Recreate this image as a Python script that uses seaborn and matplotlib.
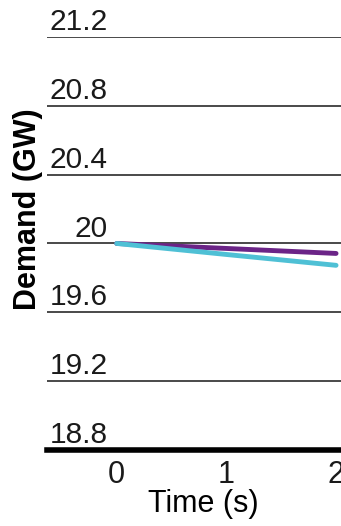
import matplotlib.pyplot as plt
import pandas as pd
import seaborn as sns

# values
time_s = [0, 1, 2]
demand_purple = [20.0, 19.971, 19.942]
demand_cyan = [20.0, 19.936, 19.873]
y_ticks = [18.8, 19.2, 19.6, 20.0, 20.4, 20.8, 21.2]
y_tick_labels = ["18.8", "19.2", "19.6", "20", "20.4", "20.8", "21.2"]
x_ticks = [0, 1, 2]

df = pd.DataFrame(
    {
        "time": time_s * 2,
        "demand": demand_purple + demand_cyan,
        "series": ["purple"] * len(time_s) + ["cyan"] * len(time_s),
    }
)

sns.set_style("white")
plt.rcParams["font.family"] = ["Liberation Sans", "DejaVu Sans"]

fig = plt.figure(figsize=(3.41, 5.26), dpi=100)
ax = fig.add_axes([0.138, 0.1445, 0.87, 0.7853])

for t in y_ticks:
    ax.axhline(t, color="#3a3a3a", lw=1.3, zorder=1)

sns.lineplot(
    data=df, x="time", y="demand", hue="series",
    palette={"purple": "#6b2487", "cyan": "#4fc0d5"},
    hue_order=["purple", "cyan"],
    lw=3.5, legend=False, ax=ax, zorder=3,
    solid_capstyle="round",
)

ax.set_xlim(-0.635, 2.07)
ax.set_ylim(18.8, 21.2)

# y tick labels sit just above their gridlines, inside the axes
ax.set_yticks([])
for t, lab in zip(y_ticks, y_tick_labels):
    ax.annotate(lab, xy=(0.205, t), xycoords=("axes fraction", "data"),
                xytext=(0, 5), textcoords="offset points",
                ha="right", va="baseline", fontsize=21.5, color="#1a1a1a")

ax.set_xticks(x_ticks)
ax.set_xticklabels([str(x) for x in x_ticks], fontsize=22, color="#1a1a1a")
ax.tick_params(axis="x", direction="out", length=6, width=3, color="black", pad=1)

for side in ["top", "right", "left"]:
    ax.spines[side].set_visible(False)
ax.spines["bottom"].set_linewidth(4)
ax.spines["bottom"].set_color("black")

ax.set_xlabel("Time (s)", fontsize=22, color="black")
ax.xaxis.set_label_coords(0.526, -0.094)
ax.set_ylabel("Demand (GW)", fontsize=22, fontweight="bold", color="black")
ax.yaxis.set_label_coords(-0.012, 0.584)

fig.savefig("out.png", dpi=100)
